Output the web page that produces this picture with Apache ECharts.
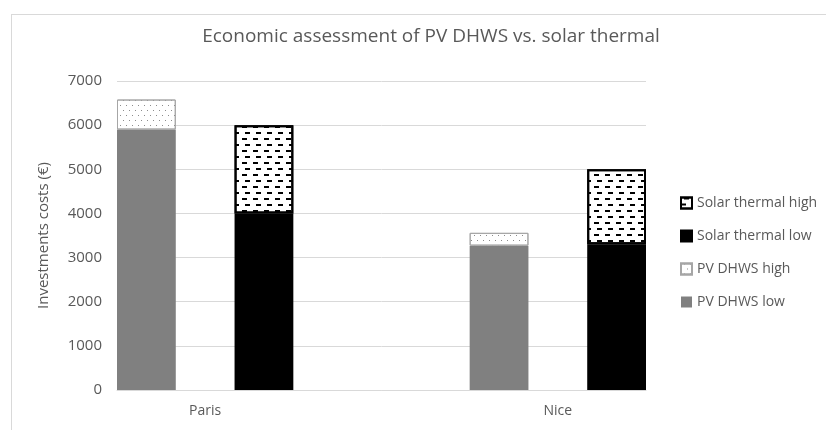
<!DOCTYPE html>
<html>
<head>
<meta charset="utf-8">
<script src="https://cdn.jsdelivr.net/npm/echarts@6/dist/echarts.min.js"></script>
<style>
  html, body { margin: 0; padding: 0; background: #fff; }
  #frame { position: absolute; left: 11px; top: 14px; width: 815px; height: 416px;
           border-left: 1px solid #d9d9d9; border-top: 1px solid #d9d9d9; box-sizing: border-box; }
  #chart { position: absolute; left: 0; top: 0; width: 826px; height: 430px; }
</style>
</head>
<body>
<div id="frame"></div>
<div id="chart"></div>
<script>
// ---- data ----
const cities = ['Paris', 'Nice'];
const pvLow = [5900, 3270];
const pvHigh = [680, 290];      // increment above PV low
const stLow = [4000, 3300];
const stHigh = [2000, 1700];    // increment above solar thermal low
const yTicks = [0, 1000, 2000, 3000, 4000, 5000, 6000, 7000];
const titleText = 'Economic assessment of PV DHWS vs. solar thermal';
const yName = 'Investments costs (€)';
const names = { pvLow: 'PV DHWS low', pvHigh: 'PV DHWS high', stLow: 'Solar thermal low', stHigh: 'Solar thermal high' };

// ---- slot layout: each city uses [PV, label gap, ST], cities separated by empty slots ----
const SLOTS_PER_CITY = 6;
const nSlots = cities.length * SLOTS_PER_CITY - 3;
const xLabels = new Array(nSlots).fill('');
function slotArray(values, offset) {
  const arr = new Array(nSlots).fill(null);
  values.forEach((v, i) => { arr[i * SLOTS_PER_CITY + offset] = v; });
  return arr;
}
cities.forEach((c, i) => { xLabels[i * SLOTS_PER_CITY + 1] = c; });

const FONT = 'Open Sans';
const GREY = '#595959';

const chart = echarts.init(document.getElementById('chart'), null, { renderer: 'canvas' });
chart.setOption({
  animation: false,
  textStyle: { fontFamily: FONT },
  title: {
    text: titleText,
    left: 426, top: 22, textAlign: 'center',
    textStyle: { fontFamily: FONT, fontSize: 19, fontWeight: 'normal', color: GREY }
  },
  legend: {
    orient: 'vertical',
    left: 675, top: 191,
    icon: 'rect',
    itemWidth: 11, itemHeight: 11, itemGap: 19,
    data: [names.stHigh, names.stLow, names.pvHigh, names.pvLow],
    textStyle: { fontFamily: FONT, fontSize: 14, color: GREY }
  },
  grid: { left: 117, right: 180, top: 81, bottom: 40 },
  xAxis: {
    type: 'category',
    data: xLabels,
    axisLine: { lineStyle: { color: '#d9d9d9' } },
    axisTick: { show: false },
    axisLabel: { interval: 0, color: GREY, fontSize: 14, margin: 14, fontFamily: FONT },
    splitLine: { show: false }
  },
  yAxis: {
    type: 'value',
    min: yTicks[0], max: yTicks[yTicks.length - 1], interval: 1000,
    name: yName, nameLocation: 'middle', nameGap: 66, nameRotate: 90,
    nameTextStyle: { color: GREY, fontSize: 15, fontFamily: FONT },
    axisLine: { show: false },
    axisTick: { show: false },
    axisLabel: { color: GREY, fontSize: 15, margin: 15, fontFamily: FONT, formatter: v => String(v) },
    splitLine: { lineStyle: { color: '#d9d9d9' } }
  },
  series: [
    {
      name: names.pvLow, type: 'bar', stack: 'total', barCategoryGap: '0%',
      data: slotArray(pvLow, 0),
      itemStyle: { color: '#808080' }
    },
    {
      name: names.pvHigh, type: 'bar', stack: 'total', barCategoryGap: '0%',
      data: slotArray(pvHigh, 0),
      itemStyle: {
        color: '#ffffff', borderColor: '#a6a6a6', borderWidth: 1,
        decal: { symbol: 'rect', symbolSize: 1, color: '#8c8c8c', dashArrayX: [[1, 5], [0, 3, 1, 2]], dashArrayY: [1, 4], rotation: 0 }
      }
    },
    {
      name: names.stLow, type: 'bar', stack: 'total', barCategoryGap: '0%',
      data: slotArray(stLow, 2),
      itemStyle: { color: '#000000', borderColor: '#000000', borderWidth: 2 }
    },
    {
      name: names.stHigh, type: 'bar', stack: 'total', barCategoryGap: '0%',
      data: slotArray(stHigh, 2),
      itemStyle: {
        color: '#ffffff', borderColor: '#000000', borderWidth: 2,
        decal: { symbol: 'rect', symbolSize: 1, color: '#000000', dashArrayX: [[5, 6], [0, 3, 5, 3]], dashArrayY: [2, 4], rotation: 0 }
      }
    }
  ]
});
</script>
</body>
</html>
